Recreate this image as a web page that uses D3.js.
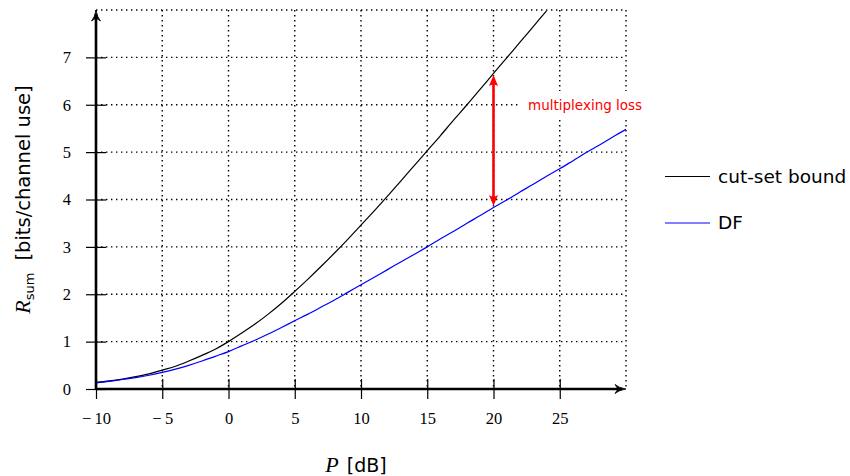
<!DOCTYPE html>
<html>
<head>
<meta charset="utf-8">
<script src="https://cdn.jsdelivr.net/npm/d3@7"></script>
<style>
  html, body { margin: 0; padding: 0; background: #fff; }
  svg { display: block; }
</style>
</head>
<body>
<svg id="chart" width="850" height="476"></svg>
<script>
// Transmit power in dB
const powerDb = [-10, -9, -8, -7, -6, -5, -4, -3, -2, -1, 0, 1, 2, 3, 4, 5, 6, 7, 8, 9, 10,
  11, 12, 13, 14, 15, 16, 17, 18, 19, 20, 21, 22, 23, 24, 25, 26, 27, 28, 29, 30];

// Cut-set upper bound on the sum rate (drawn up to 24 dB)
const cutSetRate = [0.14, 0.17, 0.21, 0.26, 0.32, 0.40, 0.48, 0.59, 0.71, 0.84, 1.00,
  1.18, 1.37, 1.58, 1.81, 2.06, 2.32, 2.59, 2.87, 3.16, 3.46,
  3.76, 4.07, 4.39, 4.71, 5.03, 5.35, 5.68, 6.00, 6.33, 6.66,
  6.99, 7.32, 7.65, 7.98];

// Decode-and-forward sum rate
const dfRate = [0.13, 0.16, 0.20, 0.24, 0.29, 0.35, 0.42, 0.50, 0.59, 0.69, 0.79,
  0.91, 1.03, 1.16, 1.30, 1.44, 1.58, 1.73, 1.88, 2.04, 2.20,
  2.36, 2.52, 2.68, 2.84, 3.00, 3.17, 3.33, 3.50, 3.66, 3.83,
  3.99, 4.16, 4.32, 4.49, 4.65, 4.82, 4.99, 5.15, 5.32, 5.48];

const xTicks = [-10, -5, 0, 5, 10, 15, 20, 25];
const yTicks = [0, 1, 2, 3, 4, 5, 6, 7];
const xGrid = [-10, -5, 0, 5, 10, 15, 20, 25, 30];
const yGrid = [1, 2, 3, 4, 5, 6, 7, 8];

const legendItems = [
  { name: "cut-set bound", color: "#000000" },
  { name: "DF", color: "#0000ff" }
];

const lossAt = 20; // power where the multiplexing loss is marked

const svg = d3.select("#chart");
const x = d3.scaleLinear().domain([-10, 30]).range([96, 626]);
const y = d3.scaleLinear().domain([0, 8]).range([389, 10]);

const serif = "'Liberation Serif', 'DejaVu Serif', serif";
const sans = "'DejaVu Sans', 'Noto Sans', sans-serif";

// dotted grid
const grid = svg.append("g").attr("stroke", "#000").attr("stroke-width", 1.4)
  .attr("stroke-dasharray", "1.4,3.6").attr("fill", "none");
grid.selectAll("line.v").data(xGrid).join("line").attr("class", "v")
  .attr("x1", d => x(d)).attr("x2", d => x(d))
  .attr("y1", y(8)).attr("y2", y(0));
grid.selectAll("line.h").data(yGrid).join("line").attr("class", "h")
  .attr("x1", x(-10)).attr("x2", x(30))
  .attr("y1", d => y(d)).attr("y2", d => y(d));

// curves
const line = d3.line().curve(d3.curveMonotoneX);
const cutPts = cutSetRate.map((v, i) => [x(powerDb[i]), y(v)]);
const dfPts = dfRate.map((v, i) => [x(powerDb[i]), y(v)]);
svg.append("path").attr("d", line(cutPts)).attr("fill", "none")
  .attr("stroke", legendItems[0].color).attr("stroke-width", 1.2);
svg.append("path").attr("d", line(dfPts)).attr("fill", "none")
  .attr("stroke", legendItems[1].color).attr("stroke-width", 1.2);

// axes with ticks crossing both sides
const tickFmt = d => (d < 0 ? "\u2212\u2009" + Math.abs(d) : String(d));
const xAxis = svg.append("g").attr("transform", `translate(0,${y(0)})`)
  .call(d3.axisBottom(x).tickValues(xTicks).tickFormat(tickFmt).tickSize(10).tickPadding(13));
xAxis.select(".domain").remove();
xAxis.selectAll(".tick line").attr("y1", -10).attr("y2", 10).attr("stroke-width", 1.2);
xAxis.selectAll(".tick text").attr("font-family", serif).attr("font-size", 16.5).attr("fill", "#000");

const yAxis = svg.append("g").attr("transform", `translate(${x(-10)},0)`)
  .call(d3.axisLeft(y).tickValues(yTicks).tickSize(10).tickPadding(15));
yAxis.select(".domain").remove();
yAxis.selectAll(".tick line").attr("x1", -10).attr("x2", 10).attr("stroke-width", 1.2);
yAxis.selectAll(".tick text").attr("font-family", serif).attr("font-size", 16.5).attr("fill", "#000");

// thick axis lines with arrow tips
svg.append("line").attr("x1", x(-10)).attr("x2", x(30) - 4).attr("y1", y(0)).attr("y2", y(0))
  .attr("stroke", "#000").attr("stroke-width", 2.6);
svg.append("line").attr("x1", x(-10)).attr("x2", x(-10)).attr("y1", y(0)).attr("y2", y(8) + 4)
  .attr("stroke", "#000").attr("stroke-width", 2.6);
const ax = x(30), ay = y(0);
svg.append("path")
  .attr("d", `M${ax},${ay} Q${ax - 7},${ay - 1} ${ax - 11},${ay - 4.5} L${ax - 8},${ay} L${ax - 11},${ay + 4.5} Q${ax - 7},${ay + 1} ${ax},${ay}Z`)
  .attr("fill", "#000").attr("stroke", "#000").attr("stroke-width", 0.8);
const bx = x(-10), by = y(8);
svg.append("path")
  .attr("d", `M${bx},${by} Q${bx - 1},${by + 7} ${bx - 4.5},${by + 11} L${bx},${by + 8} L${bx + 4.5},${by + 11} Q${bx + 1},${by + 7} ${bx},${by}Z`)
  .attr("fill", "#000").attr("stroke", "#000").attr("stroke-width", 0.8);

// multiplexing loss arrow between the two curves
const li = powerDb.indexOf(lossAt);
const topY = y(cutSetRate[li]) + 1.5, botY = y(dfRate[li]) - 1.5;
const lx = x(lossAt);
const red = "#ff0000";
svg.append("line").attr("x1", lx).attr("x2", lx).attr("y1", topY + 8).attr("y2", botY - 8)
  .attr("stroke", red).attr("stroke-width", 2.6);
svg.append("path")
  .attr("d", `M${lx},${topY} L${lx - 4.5},${topY + 11} Q${lx},${topY + 8} ${lx + 4.5},${topY + 11}Z`)
  .attr("fill", red);
svg.append("path")
  .attr("d", `M${lx},${botY} L${lx - 4.5},${botY - 11} Q${lx},${botY - 8} ${lx + 4.5},${botY - 11}Z`)
  .attr("fill", red);

svg.append("rect").attr("x", 518).attr("y", 91).attr("width", 132).attr("height", 29).attr("fill", "#fff");
svg.append("text").attr("x", 528).attr("y", 105).attr("dy", "0.35em")
  .attr("font-family", sans).attr("font-size", 13.5).attr("fill", red)
  .text("multiplexing loss");

// axis titles
const xt = svg.append("text").attr("x", 356).attr("y", 472).attr("text-anchor", "middle")
  .attr("font-size", 22).attr("fill", "#000");
xt.append("tspan").attr("font-family", serif).attr("font-style", "italic").text("P");
xt.append("tspan").attr("font-family", sans).attr("font-size", 19).attr("dx", 8).text("[dB]");

const yt = svg.append("text").attr("transform", `translate(30,${(y(0) + y(8)) / 2}) rotate(-90)`)
  .attr("text-anchor", "middle").attr("font-size", 22).attr("fill", "#000");
yt.append("tspan").attr("font-family", serif).attr("font-style", "italic").text("R");
yt.append("tspan").attr("font-family", sans).attr("font-size", 13).attr("dy", 4).text("sum");
yt.append("tspan").attr("font-family", sans).attr("font-size", 19.5).attr("dy", -4).attr("dx", 12)
  .text("[bits/channel use]");

// legend
const lg = svg.append("g").selectAll("g").data(legendItems).join("g")
  .attr("transform", (d, i) => `translate(665,${176.5 + i * 46.5})`);
lg.append("line").attr("x1", 0).attr("x2", 45).attr("stroke", d => d.color).attr("stroke-width", 1.2);
lg.append("text").attr("x", 53).attr("dy", "0.35em").attr("font-family", sans)
  .attr("font-size", 18.5).attr("fill", "#000").text(d => d.name);
</script>
</body>
</html>
